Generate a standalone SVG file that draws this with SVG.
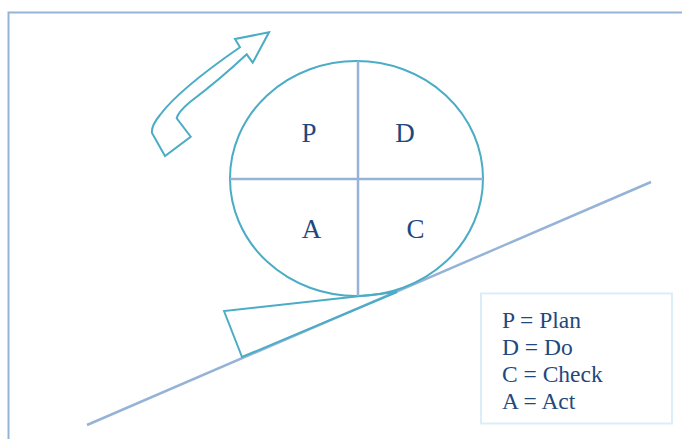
<svg xmlns="http://www.w3.org/2000/svg" width="682" height="439" viewBox="0 0 682 439">
<style>
.frame{fill:none;stroke:#95b3d7;stroke-width:2}
.ln{stroke:#95b3d7;stroke-width:2.5;fill:none}
.tl{fill:none;stroke:#4bacc6;stroke-width:2;stroke-linejoin:miter}
.lbl{font-family:"Liberation Serif","Times New Roman",serif;fill:#1f497d}
</style>
<rect width="682" height="439" fill="#ffffff"/>
<g id="frame">
<polyline class="frame" points="8.5,439 8.5,12.5 682,12.5"/>
</g>
<g id="connectors">
<line class="ln" x1="87" y1="425" x2="651" y2="182"/>
</g>
<g id="wedge">
<polygon class="tl" points="224,311 242,357 397,292"/>
</g>
<g id="cycle">
<ellipse class="tl" cx="356.5" cy="178.5" rx="126.5" ry="117.5" fill="#ffffff"/>
<line class="ln" x1="358" y1="61" x2="358" y2="296"/>
<line class="ln" x1="230" y1="179" x2="483" y2="179"/>
<text class="lbl" x="309" y="142" font-size="27" text-anchor="middle">P</text>
<text class="lbl" x="405" y="142" font-size="27" text-anchor="middle">D</text>
<text class="lbl" x="311.5" y="238" font-size="27" text-anchor="middle">A</text>
<text class="lbl" x="415.5" y="238" font-size="27" text-anchor="middle">C</text>
</g>
<g id="arrow">
<path class="tl" d="M269,32.3 L235,39 L240,47.3 C210,68 175,95 160,115 Q151,126 152,133 L165,156 L190.7,136.7 L176.7,118.3 Q178,112 190,102 C210,87 230,70 246.7,54.3 L252.7,62.7 Z"/>
</g>
<g id="legend">
<rect x="481" y="293.5" width="191" height="130" fill="#ffffff" stroke="#dbeef8" stroke-width="2"/>
<text class="lbl" font-size="23.5" x="502" y="328">P = Plan</text>
<text class="lbl" font-size="23.5" x="502" y="355">D = Do</text>
<text class="lbl" font-size="23.5" x="502" y="382">C = Check</text>
<text class="lbl" font-size="23.5" x="502" y="408.5">A = Act</text>
</g>
</svg>
